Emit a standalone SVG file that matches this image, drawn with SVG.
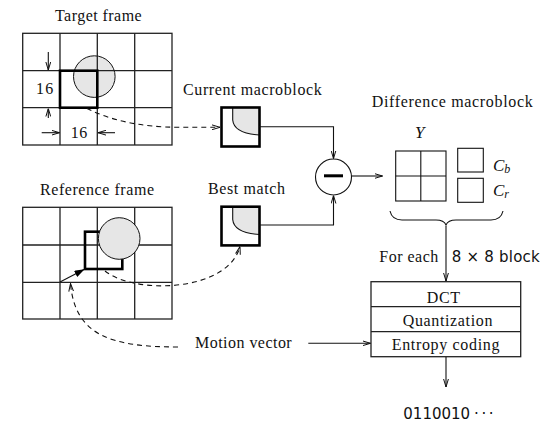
<svg xmlns="http://www.w3.org/2000/svg" width="552" height="422" viewBox="0 0 552 422">
<style>
.t{font-family:"Liberation Serif","Times New Roman",serif;font-size:16px;fill:#111}
.s{font-family:"DejaVu Sans","Liberation Sans",sans-serif;font-size:15px;fill:#111}
.i{font-family:"Liberation Serif","Times New Roman",serif;font-style:italic;font-size:17px;fill:#111}
.grid{fill:none;stroke:#222;stroke-width:1.3}
.thick{fill:none;stroke:#000;stroke-width:2.6}
.blob{fill:#e6e6e6;stroke:#111;stroke-width:1}
.ln{fill:none;stroke:#111;stroke-width:1.1}
.dash{fill:none;stroke:#111;stroke-width:1.1;stroke-dasharray:5,4}
</style>
<defs>
<marker id="ah" viewBox="0 0 8 6" refX="8" refY="3" markerWidth="8" markerHeight="6" markerUnits="userSpaceOnUse" orient="auto">
<path d="M0,0.6 L8,3 L0,5.4" fill="none" stroke="#111" stroke-width="1"/>
</marker>
<marker id="fh" viewBox="0 0 10 7" refX="10" refY="3.5" markerWidth="10" markerHeight="7" markerUnits="userSpaceOnUse" orient="auto">
<path d="M0,0 L10,3.5 L0,7 Z" fill="#000"/>
</marker>
</defs>

<g id="target-frame">
<text class="t" x="55" y="20.5" textLength="86.7">Target frame</text>
<circle class="blob" cx="94.3" cy="76.6" r="20.8"/>
<rect class="grid" x="22.7" y="33.3" width="149.3" height="111.7"/>
<path class="grid" d="M60,33.3V145M97.3,33.3V145M134.7,33.3V145M22.7,70.7H172M22.7,107.7H172"/>
<rect class="thick" x="60" y="70.7" width="37.3" height="37"/>
<path class="ln" d="M48.3,52V70" marker-end="url(#ah)"/>
<path class="ln" d="M48.3,118V108.5" marker-end="url(#ah)"/>
<path class="ln" d="M41.7,132.7H59.5" marker-end="url(#ah)"/>
<path class="ln" d="M115,132.7H98" marker-end="url(#ah)"/>
<text class="t" x="36" y="94.3" textLength="17.3">16</text>
<text class="t" x="70.7" y="138.3" textLength="16.6">16</text>
</g>

<g id="reference-frame">
<text class="t" x="40" y="195" textLength="114">Reference frame</text>
<rect class="grid" x="22.7" y="207.3" width="149.3" height="111.7"/>
<path class="grid" d="M60,207.3V319M97.3,207.3V319M134.7,207.3V319M22.7,245H172M22.7,282.3H172"/>
<rect class="thick" x="85" y="231.7" width="37.3" height="37.3"/>
<circle class="blob" cx="119.2" cy="238.5" r="20.8"/>
<path class="ln" d="M60,282 L84.5,269.3" stroke="#000" marker-end="url(#fh)"/>
</g>

<g id="current-macroblock">
<text class="t" x="183" y="95" textLength="138.7">Current macroblock</text>
<path d="M232.7,107.5 V120 Q234,133.5 259.5,135 V107.5 Z" fill="#e6e6e6"/>
<path class="ln" d="M232.7,107.5 V120 Q234,133.5 259.5,135"/>
<rect class="thick" x="221.5" y="107.5" width="38" height="39"/>
</g>

<g id="best-match">
<text class="t" x="208" y="194.3" textLength="77">Best match</text>
<path d="M232.7,206.7 V219.5 Q234,233 259.5,234.5 V206.7 Z" fill="#e6e6e6"/>
<path class="ln" d="M232.7,206.7 V219.5 Q234,233 259.5,234.5"/>
<rect class="thick" x="221.5" y="206.7" width="38" height="38.7"/>
</g>

<g id="subtract">
<circle cx="333.5" cy="177" r="18" fill="#fff" stroke="#111" stroke-width="1.1"/>
<path d="M324,175.8H343" stroke="#000" stroke-width="3"/>
</g>

<g id="difference-macroblock">
<text class="t" x="371.7" y="107.3" textLength="161">Difference macroblock</text>
<text class="i" x="415" y="138.3">Y</text>
<rect class="ln" x="395.7" y="151" width="50.3" height="50"/>
<path class="ln" d="M420.8,151V201M395.7,176H446"/>
<rect class="ln" x="457.7" y="148.3" width="25.6" height="23.7"/>
<rect class="ln" x="457.7" y="178.3" width="25.6" height="24"/>
<text class="i" x="493" y="170.7">C<tspan font-size="12" dy="2.5">b</tspan></text>
<text class="i" x="493" y="196">C<tspan font-size="12" dy="2">r</tspan></text>
<path class="ln" d="M390,211 Q392,220 402,220 L436,220 Q444,220 446,225 Q448,220 456,220 L491,220 Q501,220 503,211"/>
</g>

<g id="coder">
<rect x="371" y="281.7" width="149.7" height="75" fill="#fff" stroke="#222" stroke-width="1.3"/>
<path d="M371,306.7H520.7M371,331.7H520.7" stroke="#222" stroke-width="1.3"/>
<text class="t" x="426.7" y="302.7" textLength="33.3">DCT</text>
<text class="t" x="402.7" y="325.5" textLength="89.7">Quantization</text>
<text class="t" x="391.7" y="350" textLength="107.7">Entropy coding</text>
</g>

<g id="labels">
<text class="t" x="379.3" y="262.3" textLength="59">For each</text>
<text class="s" x="451.7" y="262.3" textLength="88">8 × 8 block</text>
<text class="t" x="195" y="348" textLength="96.7">Motion vector</text>
<text class="s" x="403.3" y="418.5" font-size="17">0110010<tspan dx="4" letter-spacing="2.5">···</tspan></text>
</g>

<g id="connectors">
<path class="dash" d="M87,108.5 C110,120 140,127.3 180,127.3 L220,127.3" marker-end="url(#ah)"/>
<path class="dash" d="M105,271 C135,295 228,292 240,246.5" marker-end="url(#ah)"/>
<path class="dash" d="M178,347 C110,347 75,335 70.5,283.5" marker-end="url(#ah)"/>
<path class="ln" d="M259.5,126.7H333.5V158.5" marker-end="url(#ah)"/>
<path class="ln" d="M259.5,225H333.5V195.5" stroke="#555" marker-end="url(#ah)"/>
<path class="ln" d="M351.5,176H382.5" marker-end="url(#ah)"/>
<path class="ln" d="M446,226V281" marker-end="url(#ah)"/>
<path class="ln" d="M308.3,343.3H370.5" marker-end="url(#ah)"/>
<path class="ln" d="M446,357V387" marker-end="url(#ah)"/>
</g>
</svg>
